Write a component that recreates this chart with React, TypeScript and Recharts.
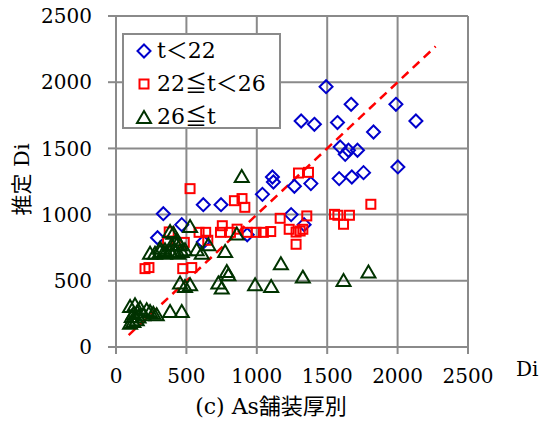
import {
  ScatterChart,
  Scatter,
  XAxis,
  YAxis,
  CartesianGrid,
  ReferenceLine,
  Legend,
  Label,
} from "recharts";

// axis ticks (both axes)
const axisTicks = [0, 500, 1000, 1500, 2000, 2500];

// t < 22  [Di, 推定Di]
const thinPts: [number, number][] = [
  [295, 825], [336, 1007], [467, 924], [620, 1075], [746, 1075],
  [620, 793], [932, 848], [1040, 1153], [1111, 1284], [1118, 1246],
  [1267, 1214], [1384, 1234], [1244, 1000], [1336, 924], [1315, 1707],
  [1409, 1682], [1492, 1966], [1573, 1695], [1670, 1833], [1592, 1511],
  [1651, 1486], [1628, 1455], [1715, 1486], [1829, 1624], [1988, 1833],
  [2130, 1707], [2002, 1360], [1585, 1272], [1675, 1284], [1758, 1317],
];

// 22 <= t < 26
const midPts: [number, number][] = [
  [206, 592], [234, 600], [474, 592], [538, 600], [526, 1196],
  [841, 1105], [895, 1121], [915, 1055], [378, 869], [366, 793],
  [485, 790], [590, 866], [637, 866], [652, 806], [742, 866],
  [755, 916], [813, 866], [860, 890], [932, 866], [995, 866],
  [1047, 866], [1099, 872], [1166, 972], [1355, 990], [1230, 889],
  [1279, 868], [1308, 876], [1327, 889], [1279, 776], [1552, 1002],
  [1576, 995], [1658, 995], [1616, 927], [1810, 1078], [1296, 1314],
  [1367, 1319],
];

// 26 <= t
const thickPts: [number, number][] = [
  [100, 302], [135, 315], [171, 290], [218, 277], [265, 252],
  [289, 239], [112, 227], [123, 189], [147, 202], [100, 176],
  [194, 239], [242, 264], [150, 260], [125, 250], [160, 222],
  [384, 264], [467, 264], [455, 479], [490, 453], [526, 466],
  [727, 479], [751, 441], [787, 566], [798, 541], [988, 466],
  [1102, 453], [1171, 625], [1327, 524], [1616, 498], [1793, 562],
  [242, 705], [277, 705], [313, 717], [348, 705], [384, 717],
  [396, 768], [384, 869], [419, 717], [443, 705], [467, 717],
  [490, 730], [431, 768], [455, 768], [526, 906], [573, 730],
  [609, 705], [656, 768], [775, 717], [858, 850], [893, 1284],
  [313, 743], [348, 730], [407, 856], [431, 806],
];

// dashed 1:1 line
const fitLine = [
  { x: 90, y: 90 },
  { x: 2270, y: 2270 },
];

const seriesNames = ["t＜22", "22≦t＜26", "26≦t"];

const BLUE = "#0000cc";
const RED = "#ff0000";
const GREEN = "#003300";
const GRID = "#8a8a8a";
const FONT = "'DejaVu Serif', 'Noto Sans CJK JP', serif";

const toRows = (pts: [number, number][]) => pts.map(([x, y]) => ({ x, y }));

const Diamond = ({ cx, cy }: any) => {
  const r = 6.5;
  return (
    <polygon
      points={`${cx},${cy - r} ${cx + r},${cy} ${cx},${cy + r} ${cx - r},${cy}`}
      fill="none"
      stroke={BLUE}
      strokeWidth={2}
    />
  );
};

const Square = ({ cx, cy }: any) => (
  <rect x={cx - 4.5} y={cy - 4.5} width={9} height={9} fill="none" stroke={RED} strokeWidth={2} />
);

const Triangle = ({ cx, cy }: any) => (
  <polygon
    points={`${cx},${cy - 7} ${cx + 7},${cy + 5} ${cx - 7},${cy + 5}`}
    fill="none"
    stroke={GREEN}
    strokeWidth={2}
  />
);

const legendIcons = [
  <Diamond cx={10} cy={10} />,
  <Square cx={10} cy={10} />,
  <Triangle cx={10} cy={11} />,
];

const renderLegend = () => (
  <div
    style={{
      width: 155,
      height: 90,
      border: `2px solid ${GRID}`,
      background: "#fff",
      fontFamily: FONT,
      fontSize: 22,
      color: "#000",
      paddingTop: 2,
      boxSizing: "content-box",
    }}
  >
    {seriesNames.map((name, i) => (
      <div key={name} style={{ display: "flex", alignItems: "center", height: 33, marginTop: i === 0 ? -3 : 0 }}>
        <svg width={20} height={20} style={{ marginLeft: 10, marginRight: 3 }}>
          {legendIcons[i]}
        </svg>
        <span style={{ lineHeight: "22px" }}>{name}</span>
      </div>
    ))}
  </div>
);

const renderXLabels = ({ viewBox }: any) => {
  const { x, y, width } = viewBox;
  return (
    <g fontFamily={FONT} fill="#000">
      <text x={x + width + 48} y={y + 29} fontSize={20}>
        Di
      </text>
      <text x={x + 155} y={y + 67} fontSize={22} textAnchor="middle">
        (c)  As舗装厚別
      </text>
    </g>
  );
};

const renderYLabel = ({ viewBox }: any) => {
  const { y, height } = viewBox;
  const cy = y + height / 2 - 2;
  return (
    <text
      x={22}
      y={cy}
      fontFamily={FONT}
      fontSize={21}
      fill="#000"
      textAnchor="middle"
      dominantBaseline="central"
      transform={`rotate(-90, 22, ${cy})`}
    >
      推定 Di
    </text>
  );
};

export default function App() {
  return (
    <div style={{ position: "absolute", left: 0, top: 0, background: "#fff" }}>
      <ScatterChart
        width={541}
        height={421}
        margin={{ top: 16, right: 73, left: 0, bottom: 0 }}
      >
        <CartesianGrid stroke={GRID} strokeWidth={2} />
        <XAxis
          type="number"
          dataKey="x"
          domain={[0, 2500]}
          ticks={axisTicks}
          height={74}
          tickSize={7}
          tickMargin={15}
          axisLine={{ stroke: GRID, strokeWidth: 2 }}
          tickLine={{ stroke: GRID, strokeWidth: 2 }}
          tick={{ fill: "#000", fontSize: 20, fontFamily: FONT }}
        >
          <Label content={renderXLabels} />
        </XAxis>
        <YAxis
          type="number"
          dataKey="y"
          domain={[0, 2500]}
          ticks={axisTicks}
          width={116}
          tickSize={8}
          tickMargin={16}
          axisLine={{ stroke: GRID, strokeWidth: 2 }}
          tickLine={{ stroke: GRID, strokeWidth: 2 }}
          tick={{ fill: "#000", fontSize: 20, fontFamily: FONT }}
        >
          <Label content={renderYLabel} />
        </YAxis>
        <ReferenceLine
          segment={fitLine}
          stroke={RED}
          strokeWidth={2.5}
          strokeDasharray="9 6"
        />
        <Scatter name={seriesNames[0]} data={toRows(thinPts)} shape={Diamond} isAnimationActive={false} />
        <Scatter name={seriesNames[1]} data={toRows(midPts)} shape={Square} isAnimationActive={false} />
        <Scatter name={seriesNames[2]} data={toRows(thickPts)} shape={Triangle} isAnimationActive={false} />
        <Legend
          layout="vertical"
          align="center"
          verticalAlign="middle"
          content={renderLegend}
          wrapperStyle={{ left: 122, top: 33, width: "auto", bottom: "auto", right: "auto" }}
        />
      </ScatterChart>
    </div>
  );
}
